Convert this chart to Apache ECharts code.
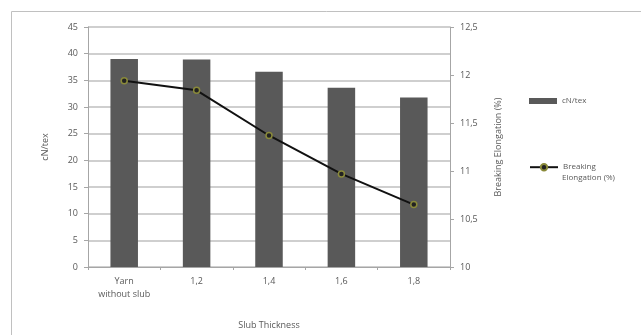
<!DOCTYPE html>
<html><head><meta charset="utf-8">
<script src="https://cdn.jsdelivr.net/npm/echarts@6/dist/echarts.min.js"></script>
<style>html,body{margin:0;padding:0;background:#fff}#c{width:641px;height:335px}</style>
</head><body><div id="c"></div>
<script>
const categories = ['Yarn\nwithout slub', '1,2', '1,4', '1,6', '1,8'];
const tenacity = [39.0, 38.9, 36.6, 33.6, 31.8];
const elongation = [11.94, 11.84, 11.37, 10.97, 10.65];
const fnt = 'Open Sans';
const txt = '#595959';
const chart = echarts.init(document.getElementById('c'));
chart.setOption({
  animation: false,
  textStyle: {fontFamily: fnt},
  grid: {left: 88, right: 191, top: 27, bottom: 63},
  graphic: [
    {type: 'rect', shape: {x: 11.5, y: 11.5, width: 640, height: 340}, style: {fill: 'none', stroke: '#c0c0c0', lineWidth: 1}},
    {type: 'text', x: 562, y: 178, style: {text: 'Elongation (%)', fontSize: 8, fill: txt, fontFamily: fnt, verticalAlign: 'middle'}}
  ],
  legend: [
    {orient: 'vertical', left: 524, top: 92, itemWidth: 28, itemHeight: 6,
     textStyle: {fontSize: 8, color: txt, fontFamily: fnt},
     data: [{name: 'cN/tex', icon: 'rect'}]},
    {orient: 'vertical', left: 524, top: 158, itemWidth: 28, itemHeight: 8, itemSymbolSize: 5,
     formatter: () => 'Breaking',
     textStyle: {fontSize: 8, color: txt, fontFamily: fnt},
     data: [{name: 'Breaking Elongation (%)'}]}
  ],
  xAxis: {
    type: 'category', data: categories,
    name: 'Slub Thickness', nameLocation: 'middle', nameGap: 54,
    nameTextStyle: {fontSize: 9, color: txt},
    axisLine: {lineStyle: {color: '#a6a6a6'}},
    axisTick: {show: true, length: 3, lineStyle: {color: '#a6a6a6'}},
    axisLabel: {fontSize: 9, color: txt, lineHeight: 13, margin: 8}
  },
  yAxis: [
    {type: 'value', min: 0, max: 45, interval: 5,
     name: 'cN/tex', nameLocation: 'middle', nameGap: 38,
     nameTextStyle: {fontSize: 9, color: txt},
     axisLine: {show: true, lineStyle: {color: '#a6a6a6'}},
     axisTick: {show: true, length: 4, lineStyle: {color: '#a6a6a6'}},
     axisLabel: {fontSize: 9, color: txt, margin: 10},
     splitLine: {lineStyle: {color: '#bfbfbf', width: 1.5}}},
    {type: 'value', min: 10, max: 12.5, interval: 0.5, position: 'right',
     name: 'Breaking Elongation (%)', nameLocation: 'middle', nameGap: 44, nameRotate: 90,
     nameTextStyle: {fontSize: 9, color: txt},
     axisLine: {show: true, lineStyle: {color: '#a6a6a6'}},
     axisTick: {show: true, length: 4, lineStyle: {color: '#a6a6a6'}},
     axisLabel: {fontSize: 9, color: txt, margin: 10, formatter: v => String(v).replace('.', ',')},
     splitLine: {show: false}}
  ],
  series: [
    {name: 'cN/tex', type: 'bar', data: tenacity, barWidth: '38%',
     itemStyle: {color: '#595959'}},
    {name: 'Breaking Elongation (%)', type: 'line', yAxisIndex: 1, data: elongation,
     symbol: 'circle', symbolSize: 6,
     lineStyle: {color: '#111', width: 2},
     itemStyle: {color: '#222', borderColor: '#8a8a3a', borderWidth: 1.5}}
  ]
});
</script>
</body></html>
